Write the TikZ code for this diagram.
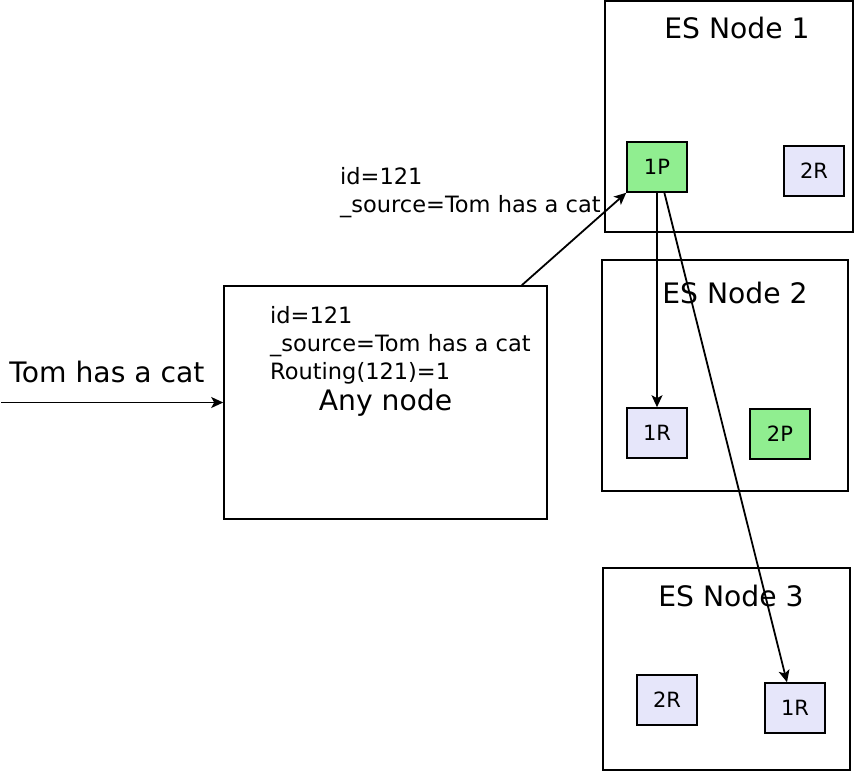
\documentclass[tikz,border=0pt]{standalone}
\usepackage{fontspec}
\setmainfont{DejaVu Sans}
\usetikzlibrary{arrows.meta,calc}
\definecolor{lgreen}{RGB}{144,238,144}
\definecolor{lav}{RGB}{230,230,250}
\begin{document}
\begin{tikzpicture}[x=1pt,y=-1pt,
 box/.style={draw, line width=1.6pt, minimum width=60pt, minimum height=50pt, inner sep=0, font=\fontsize{21}{25}\selectfont},
 pri/.style={box, fill=lgreen},
 rep/.style={box, fill=lav},
 frame/.style={draw, line width=1.6pt, inner sep=0},
 big/.style={font=\fontsize{28.2}{33}\selectfont, inner sep=0},
 small/.style={font=\fontsize{22.5}{28}\selectfont, inner sep=0, anchor=base west},
 arr/.style={line width=1.8pt, -{Stealth[length=12pt,width=11pt,inset=3pt]}}]
\useasboundingbox (0,0) rectangle (855,772);
% ES node frames
\node[frame, minimum width=248pt, minimum height=231pt] (es1) at (729,116.5) {};
\node[frame, minimum width=246pt, minimum height=231pt] (es2) at (725,375.5) {};
\node[frame, minimum width=247pt, minimum height=202pt] (es3) at (726.5,669) {};
\node[big] (t1) at (737,28) {ES Node 1};
\node[big] (t2) at (735,293) {ES Node 2};
\node[big] (t3) at (731,596) {ES Node 3};
% shards
\node[pri] (p1) at (657,167) {1P};
\node[rep] (r2a) at (814,171) {2R};
\node[rep] (r1a) at (657,433) {1R};
\node[pri] (p2) at (780,434) {2P};
\node[rep] (r2b) at (667,700) {2R};
\node[rep] (r1b) at (795,708) {1R};
% any node
\node[frame, big, minimum width=323pt, minimum height=233pt] (any) at (385.5,402.5) {Any node};
\node[small] (l1) at (270,323) {id=121};
\node[small] (l2) at (270,351) {\_source=Tom has a cat};
\node[small] (l3) at (270,379) {Routing(121)=1};
% input
\node[big] (tom) at (107,372) {Tom has a cat};
\coordinate (in) at (1,402.5);
\draw[arr] (in) -- (any.west);
% label of the routed request
\node[small] (m1) at (340,184) {id=121};
\node[small] (m2) at (340,212) {\_source=Tom has a cat};
% connectors
\draw[arr] ($(any.north west)!0.92!(any.north east)$) -- (p1.south west);
\draw[arr] (p1.south) -- (r1a.north);
\draw[arr] ($(p1.south west)!0.62!(p1.south east)$) -- ($(r1b.north west)!0.37!(r1b.north east)$);
\end{tikzpicture}
\end{document}
